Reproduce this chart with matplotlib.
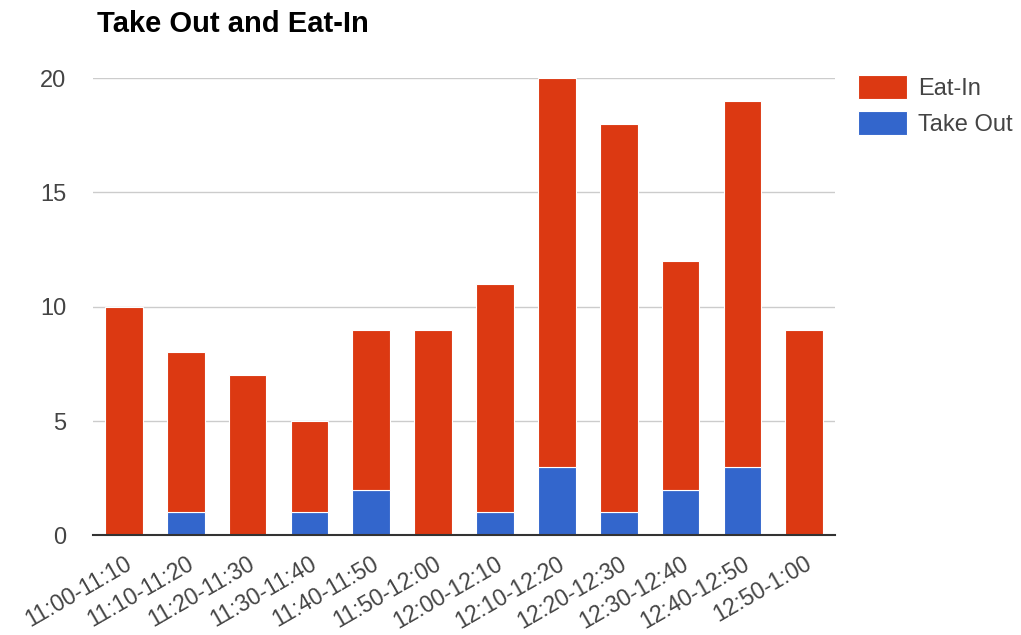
import numpy as np
import matplotlib
matplotlib.use("Agg")
import matplotlib.pyplot as plt

plt.rcParams["font.family"] = ["Liberation Sans", "DejaVu Sans"]

SLOTS = ["11:00-11:10", "11:10-11:20", "11:20-11:30", "11:30-11:40",
         "11:40-11:50", "11:50-12:00", "12:00-12:10", "12:10-12:20",
         "12:20-12:30", "12:30-12:40", "12:40-12:50", "12:50-1:00"]
take_out = [0, 1, 0, 1, 2, 0, 1, 3, 1, 2, 3, 0]
eat_in = [10, 7, 7, 4, 7, 9, 10, 17, 17, 10, 16, 9]

RED = "#dc3912"
BLUE = "#3366cc"

fig = plt.figure(figsize=(10.21, 6.35), dpi=100)
ax = fig.add_axes([0.091, 0.157, 0.727, 0.72])

x = np.arange(len(SLOTS))
w = 0.61
ax.bar(x, take_out, w, color=BLUE, edgecolor="white", linewidth=0.8,
       label="Take Out", zorder=3)
ax.bar(x, eat_in, w, bottom=take_out, color=RED, edgecolor="white",
       linewidth=0.8, label="Eat-In", zorder=3)

ax.set_xlim(-0.5, 11.5)
ax.set_ylim(0, 20)
ax.set_yticks([0, 5, 10, 15, 20])
ax.grid(True, axis="y", color="#cccccc", linewidth=1, zorder=0)
for s in ["top", "right", "left"]:
    ax.spines[s].set_visible(False)
ax.spines["bottom"].set_color("#333333")
ax.spines["bottom"].set_linewidth(1.5)
ax.spines["bottom"].set_zorder(4)
ax.tick_params(axis="y", length=0, pad=19, labelsize=17, labelcolor="#444444")
ax.tick_params(axis="x", length=0, pad=12, labelsize=16.5, labelcolor="#444444")
ax.set_xticks(x)
ax.set_xticklabels(SLOTS, rotation=30, ha="right", rotation_mode="anchor")

fig.text(0.095, 0.962, "Take Out and Eat-In", fontsize=21, fontweight="bold",
         color="#000000", ha="left", va="center")

handles, labels = ax.get_legend_handles_labels()
leg = fig.legend(handles[::-1], labels[::-1], loc="upper left",
                 bbox_to_anchor=(858 / 1021, 1 - 75 / 635),
                 bbox_transform=fig.transFigure, frameon=False, fontsize=17,
                 handlelength=2.07, handleheight=1.2, labelspacing=0.45,
                 handletextpad=0.47, borderpad=0, borderaxespad=0)
for t in leg.get_texts():
    t.set_color("#444444")

fig.savefig("out.png", dpi=100)
